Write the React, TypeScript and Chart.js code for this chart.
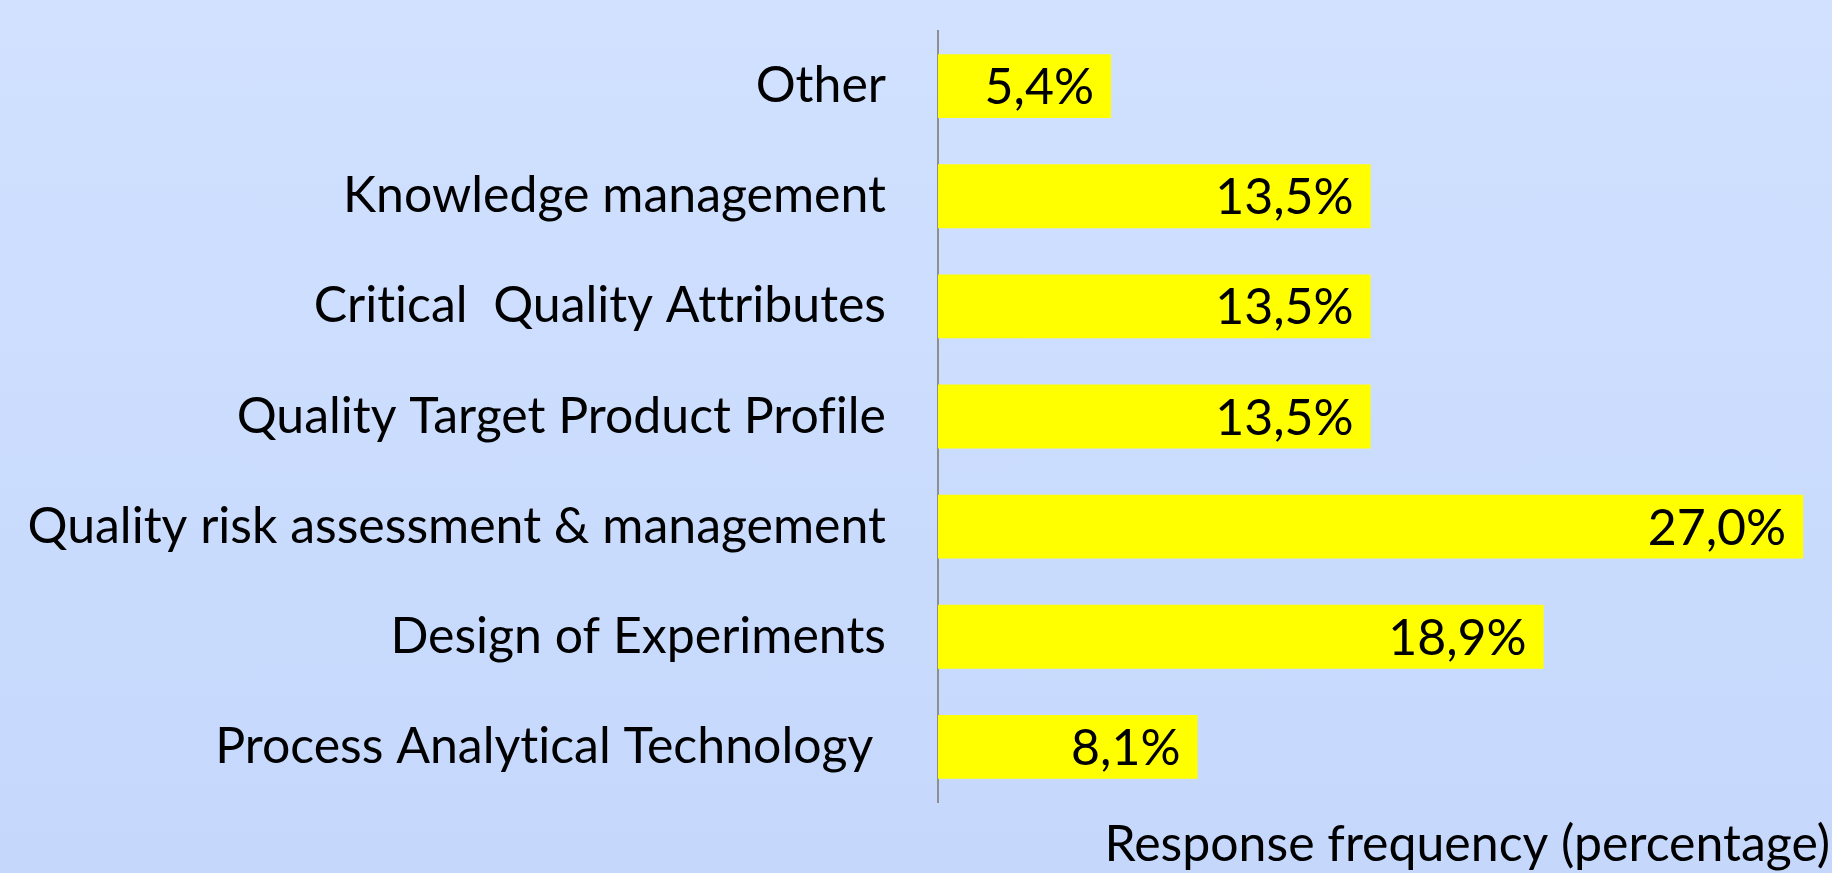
import React, { useEffect, useRef } from "react";
import { Chart, registerables } from "chart.js";

Chart.register(...registerables);

const categories = [
  "Other",
  "Knowledge management",
  "Critical  Quality Attributes",
  "Quality Target Product Profile",
  "Quality risk assessment & management",
  "Design of Experiments",
  "Process Analytical Technology ",
];
const values = [5.4, 13.5, 13.5, 13.5, 27.0, 18.9, 8.1];
const valueLabels = ["5,4%", "13,5%", "13,5%", "13,5%", "27,0%", "18,9%", "8,1%"];
const axisTitle = "Response frequency (percentage)";

const FONT_FAMILY = "Lato, 'Open Sans', sans-serif";
const FONT_SIZE = 50;

const overlayPlugin = {
  id: "overlay",
  beforeDraw(chart: any) {
    const ctx = chart.ctx as any;
    ctx.textRendering = "optimizeSpeed";
  },
  afterDatasetsDraw(chart: any) {
    const ctx = chart.ctx;
    const meta = chart.getDatasetMeta(0);
    ctx.save();
    ctx.font = `${FONT_SIZE}px ${FONT_FAMILY}`;
    ctx.fillStyle = "#000000";
    ctx.textAlign = "right";
    ctx.textBaseline = "middle";
    meta.data.forEach((bar: any, i: number) => {
      ctx.fillText(valueLabels[i], bar.x - 17, bar.y + 2);
    });
    ctx.textAlign = "right";
    ctx.fillText(axisTitle, chart.width - 2, 845);
    ctx.restore();
  },
};

export default function App() {
  const ref = useRef<HTMLCanvasElement | null>(null);
  useEffect(() => {
    if (!ref.current) return;
    const chart = new Chart(ref.current, {
      type: "bar",
      data: {
        labels: categories,
        datasets: [
          {
            data: values,
            backgroundColor: "#FFFF00",
            borderWidth: 0,
            categoryPercentage: 1,
            barPercentage: 0.58,
          },
        ],
      },
      options: {
        indexAxis: "y",
        animation: false,
        responsive: false,
        maintainAspectRatio: false,
        layout: { padding: { top: 31, bottom: 71, left: 0, right: 0 } },
        plugins: {
          legend: { display: false },
          tooltip: { enabled: false },
        },
        scales: {
          x: {
            display: false,
            min: 0,
            max: 27.9,
          },
          y: {
            afterFit(scale: any) {
              scale.width = 938;
              scale.paddingTop = 0;
              scale.paddingBottom = 0;
            },
            grid: { display: false, drawTicks: false },
            border: { display: true, color: "#8f8f8f", width: 2 },
            ticks: {
              color: "#000000",
              padding: 52,
              font: { family: FONT_FAMILY, size: FONT_SIZE },
            },
          },
        },
      },
      plugins: [overlayPlugin],
    });
    return () => chart.destroy();
  }, []);
  return (
    <div
      style={{
        position: "absolute",
        left: 0,
        top: 0,
        width: 1832,
        height: 873,
        background: "linear-gradient(#d1e1ff, #c5d8fc)",
      }}
    >
      <canvas ref={ref} width={1832} height={873} style={{ display: "block" }} />
    </div>
  );
}
